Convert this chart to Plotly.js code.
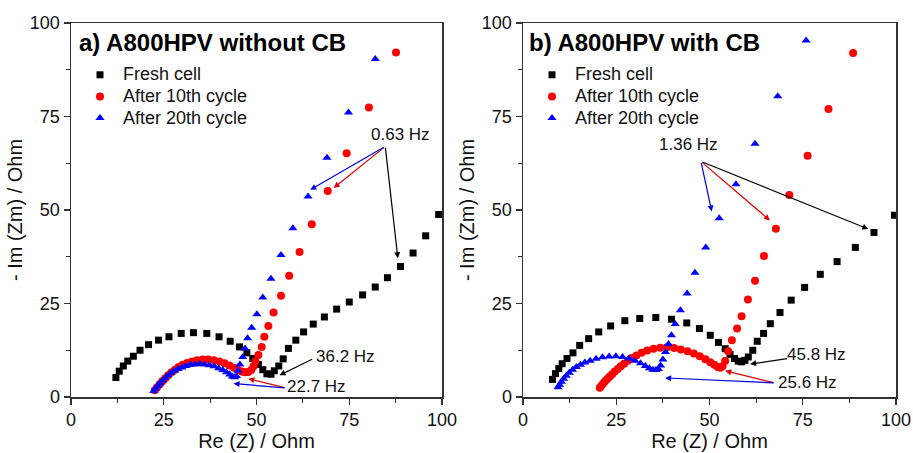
<!DOCTYPE html>
<html>
<head>
<meta charset="utf-8">
<script src="https://cdn.plot.ly/plotly-3.0.1.min.js"></script>
<style>html,body{margin:0;padding:0;background:#fff;}#chart{width:913px;height:453px;}</style>
</head>
<body>
<div id="chart"></div>
<script>
// ---- Panel a) A800HPV without CB ----
const aFreshX = [12.1,13.0,14.1,15.3,16.8,18.6,20.9,23.6,26.4,29.7,33.0,36.6,39.9,42.9,45.4,47.4,49.0,50.5,51.7,52.8,53.9,54.8,56.0,57.2,58.6,60.6,62.7,65.3,68.3,71.6,75.0,78.6,82.0,85.3,88.8,92.2,95.6,99.1];
const aFreshY = [5.2,6.9,8.3,9.6,10.9,12.5,14.0,15.2,16.1,17.0,17.2,17.0,16.1,14.9,13.4,11.8,10.3,8.7,7.3,6.2,6.1,7.0,8.3,10.2,13.0,15.2,17.4,19.5,21.4,23.5,25.4,27.3,29.4,31.9,34.9,38.5,43.1,48.8];
const a10X = [22.6,23.2,23.9,24.6,25.4,26.2,27.1,28.0,29.0,30.1,31.3,32.6,34.0,35.5,37.0,38.5,40.0,41.4,42.7,43.9,45.0,46.0,46.9,47.8,48.6,49.2,49.7,50.5,51.4,52.1,53.2,54.6,56.6,58.8,61.6,64.9,69.2,74.3,80.3,87.6];
const a10Y = [1.8,2.6,3.4,4.2,5.0,5.8,6.6,7.3,8.0,8.6,9.1,9.5,9.8,10.0,10.0,9.8,9.5,9.0,8.4,7.8,7.2,6.8,6.6,6.7,7.2,8.2,9.5,11.2,13.4,16.1,19.0,22.6,27.1,32.4,38.8,46.2,55.1,65.2,77.4,92.1];
const a20X = [22.3,22.8,23.4,24.0,24.7,25.4,26.2,27.0,27.9,28.9,29.9,31.0,32.2,33.4,34.7,36.0,37.3,38.6,39.8,40.9,41.9,42.8,43.5,44.1,44.6,45.0,45.5,46.3,46.9,47.6,48.7,50.1,51.7,53.9,56.6,59.8,63.9,69.0,74.8,82.0];
const a20Y = [1.6,2.3,3.0,3.7,4.4,5.1,5.8,6.4,7.0,7.5,7.9,8.3,8.6,8.7,8.8,8.7,8.5,8.2,7.7,7.2,6.6,6.0,5.5,5.3,5.6,7.0,8.7,10.7,13.0,15.7,18.5,22.1,26.6,31.6,38.0,45.1,53.6,64.0,76.1,90.4];

// ---- Panel b) A800HPV with CB ----
const bFreshX = [7.9,8.7,9.6,10.5,11.8,13.4,15.2,17.6,20.3,23.5,27.3,31.3,35.6,39.8,43.9,47.3,50.2,52.4,54.2,55.5,56.7,57.7,58.6,59.5,60.4,61.6,62.8,64.5,66.3,68.9,71.9,75.5,79.7,84.2,89.1,94.1,99.6];
const bFreshY = [4.7,6.25,7.6,8.9,10.3,11.8,13.8,15.6,17.4,19.0,20.4,21.0,21.25,20.8,19.8,18.3,16.5,14.6,12.9,11.4,10.3,9.6,9.4,9.8,10.7,12.5,14.9,17.0,19.6,22.6,25.9,29.3,32.8,36.2,40.0,44.0,48.6];
const b10X = [20.6,21.0,21.5,22.0,22.6,23.2,23.9,24.6,25.4,26.2,27.1,28.1,29.2,30.4,31.8,33.3,35.0,36.8,38.6,40.5,42.3,44.1,45.8,47.4,48.9,50.2,51.3,52.2,52.9,53.5,54.2,55.0,56.0,57.4,58.6,60.3,62.2,64.6,67.8,71.4,76.3,81.9,88.5];
const b10Y = [2.5,3.0,3.6,4.2,4.8,5.4,6.1,6.8,7.5,8.2,8.9,9.7,10.4,11.1,11.8,12.4,12.9,13.2,13.3,13.1,12.7,12.2,11.6,10.9,10.1,9.3,8.6,8.0,7.8,8.2,9.6,12.2,15.2,18.3,21.6,26.1,31.1,37.7,45.0,54.0,64.5,77.0,92.0];
const b20X = [9.4,9.8,10.3,10.9,11.6,12.4,13.3,14.3,15.4,16.6,18.0,19.6,21.3,23.1,24.9,26.7,28.4,30.0,31.5,32.8,33.9,34.8,35.6,36.3,36.9,37.5,38.2,39.0,39.8,40.8,42.2,44.0,46.1,49.0,52.6,57.1,62.2,68.3,75.9];
const b20Y = [2.6,3.3,4.1,4.9,5.7,6.5,7.3,8.0,8.6,9.2,9.7,10.2,10.6,10.8,10.9,10.7,10.3,9.7,9.0,8.3,7.7,7.3,7.2,7.5,8.4,10.0,12.0,14.2,16.5,19.5,23.2,27.7,33.2,40.0,47.8,56.9,67.7,80.4,95.3];

const seriesNames = ["Fresh cell", "After 10th cycle", "After 20th cycle"];
const panelTitles = ["a) A800HPV without CB", "b) A800HPV with CB"];
const tickVals = [0, 25, 50, 75, 100];
const tickText = ["0", "25", "50", "75", "100"];
const minorTickVals = [12.5, 37.5, 62.5, 87.5];
const xTitle = "Re (Z) / Ohm";
const yTitle = "- Im (Zm) / Ohm";

const FONT = "Liberation Sans, Arial, Helvetica, sans-serif";
const styles = [
  {symbol: "square", color: "#000000", size: 7},
  {symbol: "circle", color: "#ff0000", size: 8},
  {symbol: "triangle-up", color: "#0000ff", size: 8}
];

function tr(x, y, i, xa, ya, leg) {
  return {
    type: "scatter", mode: "markers", x: x, y: y,
    name: '<span style="font-size:18px">' + seriesNames[i] + '</span>',
    xaxis: xa, yaxis: ya, legend: leg,
    marker: {symbol: styles[i].symbol, color: styles[i].color, size: styles[i].size, line: {width: 0}}
  };
}

const data = [
  tr(aFreshX, aFreshY, 0, "x", "y", "legend"),
  tr(a10X, a10Y, 1, "x", "y", "legend"),
  tr(a20X, a20Y, 2, "x", "y", "legend"),
  tr(bFreshX, bFreshY, 0, "x2", "y2", "legend2"),
  tr(b10X, b10Y, 1, "x2", "y2", "legend2"),
  tr(b20X, b20Y, 2, "x2", "y2", "legend2")
];

function baseAxis(domain, anchor, title, standoff) {
  return {
    domain: domain, anchor: anchor, range: [0, 100], tickvals: tickVals, ticktext: tickText,
    ticks: "outside", ticklen: 6, tickwidth: 1.3, tickcolor: "#333",
    minor: {tickvals: minorTickVals, ticks: "outside", ticklen: 4, tickwidth: 1.2, tickcolor: "#333"},
    showline: true, linecolor: "#333", linewidth: 1.5, mirror: true,
    showgrid: false, zeroline: false,
    tickfont: {family: FONT, size: 18, color: "#111"},
    title: {text: title, font: {family: FONT, size: 20, color: "#111"}, standoff: standoff}
  };
}

function arrow(xr, yr, x, y, ax, ay, color) {
  return {xref: xr, yref: yr, axref: xr, ayref: yr, x: x, y: y, ax: ax, ay: ay,
    text: "", showarrow: true, arrowhead: 2, arrowsize: 1, arrowwidth: 1.2, arrowcolor: color};
}
function label(xr, yr, x, y, t) {
  return {xref: xr, yref: yr, x: x, y: y, text: t, showarrow: false,
    font: {family: FONT, size: 17, color: "#111"}};
}

const annotations = [
  {xref: "paper", yref: "paper", x: 77/913, y: 1 - 42/453, xanchor: "left", yanchor: "middle",
   text: "<b>" + panelTitles[0] + "</b>", showarrow: false, font: {family: FONT, size: 24, color: "#000"}},
  {xref: "paper", yref: "paper", x: 527/913, y: 1 - 42/453, xanchor: "left", yanchor: "middle",
   text: "<b>" + panelTitles[1] + "</b>", showarrow: false, font: {family: FONT, size: 24, color: "#000"}},
  // panel a
  label("x", "y", 88.7, 70.2, "0.63 Hz"),
  arrow("x", "y", 88.1, 37.1, 84.7, 67.0, "#000000"),
  arrow("x", "y", 70.8, 55.9, 84.7, 67.0, "#e00000"),
  arrow("x", "y", 64.5, 55.4, 84.7, 67.0, "#0000e0"),
  label("x", "y", 73.9, 10.7, "36.2 Hz"),
  arrow("x", "y", 56.2, 5.8, 65.4, 10.3, "#000000"),
  label("x", "y", 66.3, 2.7, "22.7 Hz"),
  arrow("x", "y", 47.8, 4.9, 58.0, 2.4, "#e00000"),
  arrow("x", "y", 43.8, 3.6, 58.0, 2.4, "#0000e0"),
  // panel b
  label("x2", "y2", 44.3, 67.5, "1.36 Hz"),
  arrow("x2", "y2", 50.6, 49.6, 47.7, 63.0, "#0000e0"),
  arrow("x2", "y2", 66.2, 47.2, 47.7, 63.0, "#e00000"),
  arrow("x2", "y2", 92.6, 44.9, 47.7, 63.0, "#000000"),
  label("x2", "y2", 78.8, 11.4, "45.8 Hz"),
  arrow("x2", "y2", 60.9, 8.8, 71.2, 10.3, "#000000"),
  label("x2", "y2", 76.4, 4.0, "25.6 Hz"),
  arrow("x2", "y2", 54.2, 7.0, 67.6, 3.75, "#e00000"),
  arrow("x2", "y2", 38.1, 5.1, 67.6, 3.75, "#0000e0")
];

const legendBase = {
  bgcolor: "rgba(0,0,0,0)", borderwidth: 0, xanchor: "left", yanchor: "top",
  font: {family: FONT, size: 14.3, color: "#111"}, itemwidth: 36, tracegroupgap: 0
};

const layout = {
  width: 913, height: 453,
  margin: {l: 0, r: 0, t: 0, b: 0},
  paper_bgcolor: "#fff", plot_bgcolor: "#fff",
  font: {family: FONT},
  xaxis: baseAxis([71/913, 442/913], "y", xTitle, 4),
  yaxis: baseAxis([1 - 397/453, 1 - 23/453], "x", yTitle, 2),
  xaxis2: baseAxis([523/913, 896/913], "y2", xTitle, 4),
  yaxis2: baseAxis([1 - 397/453, 1 - 23/453], "x2", yTitle, 2),
  legend: Object.assign({x: 77/913, y: 1 - 59/453}, legendBase),
  legend2: Object.assign({x: 529/913, y: 1 - 59/453}, legendBase),
  annotations: annotations,
  showlegend: true
};

Plotly.newPlot("chart", data, layout, {displayModeBar: false, staticPlot: true});
</script>
</body>
</html>
